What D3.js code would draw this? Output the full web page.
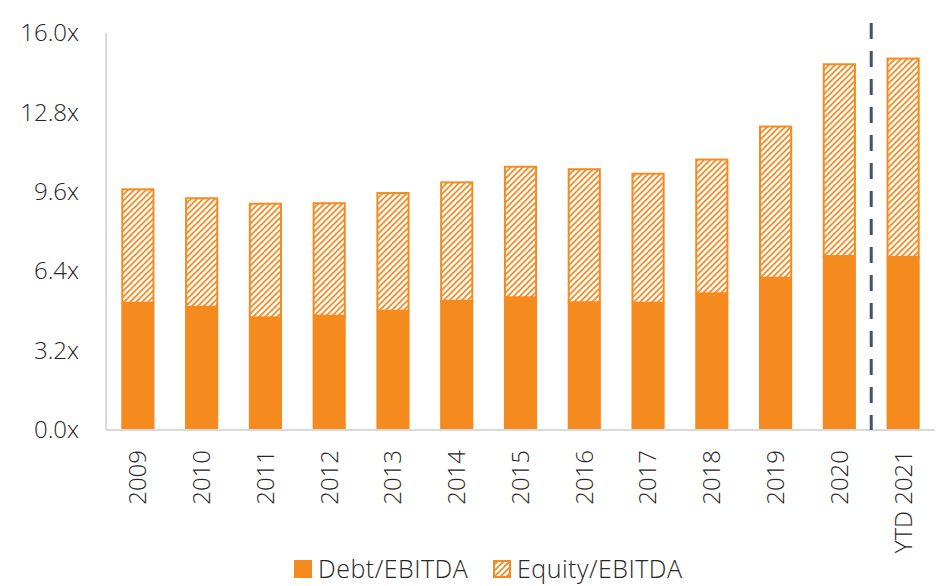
<!DOCTYPE html>
<html>
<head>
<meta charset="utf-8">
<script src="https://cdn.jsdelivr.net/npm/d3@7"></script>
<style>
    body { margin: 0; background: #fff; }
    svg text { font-family: "Open Sans", "Liberation Sans", sans-serif; font-weight: 300; fill: #262626; }
</style>
</head>
<body>
<div id="chart"></div>
<script>
"use strict";

// values
const categories = ["2009", "2010", "2011", "2012", "2013", "2014", "2015", "2016", "2017", "2018", "2019", "2020", "YTD 2021"];
const debtEbitda = [5.13, 4.97, 4.54, 4.61, 4.81, 5.21, 5.35, 5.15, 5.13, 5.51, 6.14, 7.01, 6.98];
const totalEbitda = [9.74, 9.38, 9.16, 9.18, 9.59, 10.02, 10.65, 10.55, 10.37, 10.94, 12.27, 14.78, 15.01];
const yTicks = [0, 3.2, 6.4, 9.6, 12.8, 16.0];
const seriesNames = ["Debt/EBITDA", "Equity/EBITDA"];

const W = 944, H = 586;
const ORANGE = "#F58A1F";
const margin = {left: 106, right: 9, top: 33, bottom: 156};

const svg = d3.select("#chart").append("svg")
    .attr("width", W)
    .attr("height", H);

svg.append("defs").append("pattern")
    .attr("id", "hatch")
    .attr("patternUnits", "userSpaceOnUse")
    .attr("width", 6)
    .attr("height", 6)
    .append("path")
    .attr("d", "M0,6 L6,0 M-1,1 L1,-1 M5,7 L7,5")
    .attr("stroke", ORANGE)
    .attr("stroke-width", 1.7);

const x = d3.scaleBand()
    .domain(categories)
    .range([margin.left, W - margin.right])
    .paddingInner(0.48)
    .paddingOuter(0.24);

const y = d3.scaleLinear()
    .domain([0, 16])
    .range([H - margin.bottom, margin.top]);

// left axis line
svg.append("line")
    .attr("x1", margin.left).attr("x2", margin.left)
    .attr("y1", y(16)).attr("y2", y(0))
    .attr("stroke", "#d9d9d9").attr("stroke-width", 2);

// debt bars
svg.append("g").selectAll("rect")
    .data(categories)
    .join("rect")
    .attr("x", d => x(d))
    .attr("width", x.bandwidth())
    .attr("y", (d, i) => y(debtEbitda[i]))
    .attr("height", (d, i) => y(0) - y(debtEbitda[i]))
    .attr("fill", ORANGE);

// equity bars (hatched), stacked on debt
svg.append("g").selectAll("rect")
    .data(categories)
    .join("rect")
    .attr("x", d => x(d) + 1)
    .attr("width", x.bandwidth() - 2)
    .attr("y", (d, i) => y(totalEbitda[i]) + 1)
    .attr("height", (d, i) => y(debtEbitda[i]) - y(totalEbitda[i]) - 1)
    .attr("fill", "url(#hatch)")
    .attr("stroke", ORANGE)
    .attr("stroke-width", 2);

// bottom axis line
svg.append("line")
    .attr("x1", margin.left).attr("x2", W - margin.right)
    .attr("y1", y(0)).attr("y2", y(0))
    .attr("stroke", "#d9d9d9").attr("stroke-width", 2);

// y axis labels
const yAxis = d3.axisLeft(y)
    .tickValues(yTicks)
    .tickSize(0)
    .tickPadding(27)
    .tickFormat(d => d3.format(".1f")(d) + "x");
svg.append("g")
    .attr("transform", `translate(${margin.left},0)`)
    .call(yAxis)
    .call(g => g.select(".domain").remove())
    .selectAll("text")
    .attr("font-size", 24)
    .attr("font-family", null)
    .attr("fill", "#262626");

// x axis labels, rotated
const xAxis = d3.axisBottom(x).tickSize(0).tickPadding(0);
svg.append("g")
    .attr("transform", `translate(0,${y(0)})`)
    .call(xAxis)
    .call(g => g.select(".domain").remove())
    .selectAll("text")
    .attr("font-size", 24)
    .attr("font-family", null)
    .attr("fill", "#262626")
    .attr("text-anchor", "end")
    .attr("dy", "0.35em")
    .attr("transform", "translate(0,20) rotate(-90)")
    .attr("y", 0)
    .attr("x", 0);

// dashed divider before YTD
const last = categories[categories.length - 1], prev = categories[categories.length - 2];
const divX = (x(prev) + x(last) + x.bandwidth()) / 2;
svg.append("line")
    .attr("x1", divX).attr("x2", divX)
    .attr("y1", y(16) - 10).attr("y2", y(0))
    .attr("stroke", "#44546A")
    .attr("stroke-width", 3)
    .attr("stroke-dasharray", "16,12");

// legend
const legend = svg.append("g").attr("transform", "translate(294,560)");
const lx = [0, 199];
seriesNames.forEach((name, i) => {
    const item = legend.append("g").attr("transform", `translate(${lx[i]},0)`);
    item.append("rect")
        .attr("x", i ? 1 : 0).attr("y", i ? 1 : 0)
        .attr("width", i ? 16 : 18).attr("height", i ? 16 : 18)
        .attr("fill", i ? "url(#hatch)" : ORANGE)
        .attr("stroke", i ? ORANGE : "none")
        .attr("stroke-width", 2);
    item.append("text")
        .attr("x", 24).attr("y", 18)
        .attr("font-size", 25)
        .attr("letter-spacing", 0.5)
        .text(name);
});
</script>
</body>
</html>
